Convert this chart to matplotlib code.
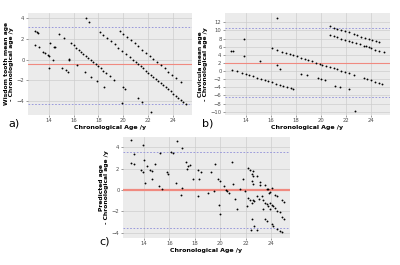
import matplotlib
matplotlib.use("Agg")
import matplotlib.pyplot as plt

# panel a: wisdom tooth mean age - chronological age
a_x = [18.1, 18.4, 18.7, 19.0, 19.3, 19.6, 19.9, 20.2, 20.5, 20.8, 21.0, 21.2, 21.4, 21.6, 21.8, 22.0,
       22.2, 22.4, 22.6, 22.8, 23.0, 23.2, 23.4, 23.6, 23.8, 24.0, 24.2, 24.4, 24.6, 24.8, 25.0,
       19.7, 20.0, 20.3, 20.6, 20.9, 21.2, 21.5, 21.8, 22.1, 22.4, 22.7, 23.0, 23.3, 23.6, 23.9, 24.2, 24.6,
       15.8, 16.0, 16.2, 16.4, 16.6, 16.8, 17.0, 17.2, 17.4, 17.6, 17.8, 18.0, 18.2, 18.4, 18.6, 18.9,
       17.0, 17.26, 12.93, 13.06, 13.17, 14.86, 15.2, 12.93, 13.25, 14.13, 14.45, 14.53, 13.52, 13.73,
       13.92, 14.05, 14.32, 14.05, 15.07, 15.39, 15.58, 15.6, 15.66, 16.27, 16.94, 17.4, 17.85, 18.41,
       19.27, 19.94, 20.15, 19.88, 21.14, 21.49, 22.2]
a_y = [2.65, 2.35, 2.05, 1.75, 1.45, 1.15, 0.85, 0.55, 0.25, -0.05, -0.25, -0.45, -0.65, -0.85, -1.05, -1.25,
       -1.45, -1.65, -1.85, -2.05, -2.25, -2.45, -2.65, -2.85, -3.05, -3.25, -3.45, -3.65, -3.85, -4.05, -4.25,
       2.75, 2.45, 2.15, 1.85, 1.55, 1.25, 0.95, 0.65, 0.35, 0.05, -0.25, -0.55, -0.85, -1.15, -1.45, -1.75, -2.15,
       1.55, 1.35, 1.15, 0.95, 0.75, 0.55, 0.35, 0.15, -0.05, -0.25, -0.45, -0.65, -0.85, -1.05, -1.25, -1.55,
       3.95, 3.55, 2.74, 2.61, 2.52, 2.42, 2.04, 1.35, 1.16, 1.54, 1.19, 1.16, 0.69, 0.6,
       0.47, 0.38, -0.09, -0.85, -0.79, -1.0, -1.23, 0.06, 0.0, -0.53, -1.16, -1.64, -2.04, -2.61,
       -1.95, -2.61, -2.83, -4.18, -3.71, -4.09, -4.97]
a_mean, a_lo, a_hi = -0.47, -4.25, 3.15

# panel b: clavicula mean age - chronological age
b_x = [20.7, 21.0, 21.3, 21.6, 21.9, 22.2, 22.6, 22.9, 23.2, 23.5, 23.8, 24.1, 24.4, 24.6,
       20.7, 21.0, 21.3, 21.6, 21.9, 22.2, 22.5, 22.8, 23.1, 23.4, 23.6, 23.8, 24.0, 24.3, 24.6, 25.0,
       16.1, 16.5, 16.9, 17.2, 17.5, 17.8, 18.1, 18.4, 18.7, 19.0, 19.3, 19.6, 19.9, 20.1, 20.4, 20.7,
       21.0, 21.3, 21.6, 21.9, 22.2, 22.6, 23.4, 23.7, 24.0, 24.3, 24.6, 24.9,
       12.9, 13.3, 13.7, 14.0, 14.3, 14.6, 14.9, 15.2, 15.5, 15.8, 16.1, 16.4, 16.7, 17.0, 17.3, 17.6, 17.8,
       16.52, 12.85, 12.99, 13.86, 13.86, 15.1, 16.5, 16.7, 18.4, 18.9, 19.75, 20.0, 20.3, 21.1, 21.5,
       22.2, 22.7]
b_y = [11.0, 10.7, 10.4, 10.1, 9.8, 9.5, 9.1, 8.8, 8.5, 8.2, 7.9, 7.6, 7.3, 7.1,
       8.9, 8.6, 8.3, 8.0, 7.7, 7.5, 7.2, 6.9, 6.6, 6.3, 6.1, 5.9, 5.7, 5.3, 5.0, 4.6,
       5.6, 5.2, 4.8, 4.5, 4.2, 3.9, 3.6, 3.3, 3.0, 2.7, 2.4, 2.1, 1.8, 1.6, 1.3, 1.0,
       0.7, 0.4, 0.1, -0.2, -0.5, -0.9, -1.7, -2.0, -2.3, -2.6, -2.9, -3.2,
       0.35, -0.05, -0.45, -0.7, -1.0, -1.3, -1.6, -1.9, -2.2, -2.5, -2.8, -3.1, -3.4, -3.7, -4.0, -4.2, -4.4,
       13.0, 4.85, 4.85, 7.8, 3.8, 2.6, 1.4, 0.6, -0.6, -1.0, -1.8, -2.0, -2.2, -3.6, -4.0,
       -4.5, -9.7]
b_mean, b_lo, b_hi = 2.1, -6.4, 10.5

# panel c: predicted age - chronological age
c_x = [13.01, 13.23, 13.01, 13.23, 13.95, 13.73, 13.89, 14.03, 14.27, 14.11, 14.48, 14.61, 14.61, 14.88,
       15.2, 15.23, 15.41, 15.81, 15.87, 16.16, 16.32, 16.61, 16.53, 16.96, 17.33, 17.49, 17.63, 17.01,
       16.91, 17.36, 17.89, 18.29, 18.48, 18.35, 18.29, 19.01, 19.28, 19.55, 19.63, 19.81, 19.95, 19.89,
       20.0, 20.27, 20.43, 20.53, 20.69, 20.96, 21.01, 21.15, 21.33, 21.55, 21.81, 21.95, 22.19, 22.32,
       22.48, 22.61, 22.61, 22.88, 23.04, 23.15, 22.21, 22.35, 22.48, 22.08, 23.41, 23.68, 23.81, 23.95,
       24.08, 24.35, 24.48, 24.88, 25.01, 22.6, 22.9, 22.5, 23.1, 23.5, 23.8, 23.9, 24.1, 22.6, 22.7,
       23.3, 23.4, 23.5, 23.7, 23.8, 23.9, 24.2, 24.3, 24.5, 24.7, 24.9, 25.0, 22.5, 22.7, 23.5, 23.7,
       24.1, 24.2, 24.5, 24.7, 24.9, 22.4, 22.9]
c_y = [4.69, 3.34, 2.56, 2.44, 4.22, 1.88, 1.72, 2.78, 2.25, 0.69, 1.84, 1.78, 1.0, 2.47,
       0.38, 3.44, 0.13, 1.63, 1.53, 3.56, 3.44, 4.53, 0.69, 3.88, 2.63, 2.19, 2.31, 0.22,
       -0.47, 1.94, 1.06, 1.88, 1.72, 1.0, -0.56, -0.25, 1.69, -0.09, 2.47, 1.0, 0.84, -1.44,
       -2.25, 0.38, 0.0, -0.13, -0.25, 2.63, 0.53, -0.88, -1.81, 0.06, 1.06, -0.09, 2.09, 1.88,
       1.53, 1.31, 0.53, -0.56, -0.81, 0.44, -0.72, -0.94, -1.25, -1.5, -1.75, 0.06, -0.31, -1.25,
       -1.44, -0.44, -0.56, -0.94, -1.09, 1.8, 1.3, 0.85, 0.7, 0.5, 0.07, -0.24, 0.2, -0.9, -1.0,
       -0.6, -0.9, -1.2, -1.3, -1.55, -1.8, -1.5, -1.65, -1.96, -2.1, -2.5, -2.74, -2.74, -3.36, -2.74, -2.9,
       -3.2, -3.36, -3.67, -3.83, -3.98, -3.75, -3.8]
c_mean, c_lo, c_hi = 0.0, -3.6, 3.5

x_ticks = [14, 16, 18, 20, 22, 24]

panels = [
    # x, y, mean, limits, rect, ylim, yticks, ylabel, letter, letter pos, mean lw
    (a_x, a_y, a_mean, (a_lo, a_hi), [0.07, 0.566, 0.41, 0.385], (-5.3, 4.45), [-4, -2, 0, 2, 4],
     "Wisdom tooth mean age\n- Chronological age /y", "a)", (0.035, 0.535), 0.8),
    (b_x, b_y, b_mean, (b_lo, b_hi), [0.5625, 0.566, 0.4125, 0.385], (-10.8, 14.3), list(range(-10, 13, 2)),
     "Clavicula mean age\n- Chronological age /y", "b)", (0.52, 0.535), 0.8),
    (c_x, c_y, c_mean, (c_lo, c_hi), [0.3075, 0.102, 0.4175, 0.381], (-4.5, 4.95), [-4, -2, 0, 2, 4],
     "Predicted age\n- Chronological age /y", "c)", (0.262, 0.088), 1.6),
]

fig = plt.figure(figsize=(4, 2.65), dpi=100)

for xs, ys, mean, lims, rect, ylim, yticks, ylabel, letter, lpos, mlw in panels:
    ax = fig.add_axes(rect)
    ax.set_facecolor("#ebebeb")
    for s in ax.spines.values():
        s.set_visible(False)
    ax.set_axisbelow(True)
    ax.grid(True, color="#cdcdcd", linewidth=0.5)
    ax.axhline(mean, color="#f08a80", linewidth=mlw, zorder=1)
    for v in lims:
        ax.axhline(v, color="#8c8cd8", linewidth=0.6, linestyle=(0, (2, 2)), zorder=1)
    ax.scatter(xs, ys, s=1.8, color="black", linewidths=0, zorder=3)
    ax.set_xlim(12.35, 25.5)
    ax.set_ylim(*ylim)
    ax.set_xticks(x_ticks)
    ax.set_yticks(yticks)
    ax.tick_params(labelsize=3.8, labelcolor="#4d4d4d", length=1.5, width=0.4,
                   color="#4d4d4d", pad=1)
    ax.set_xlabel("Chronological Age /y", fontsize=4.5, fontweight="bold", labelpad=1)
    ax.set_ylabel(ylabel, fontsize=4.3, fontweight="bold", labelpad=2, linespacing=1.0)
    fig.text(lpos[0], lpos[1], letter, fontsize=8, ha="center", va="center")

fig.savefig("out.png", dpi=100)
